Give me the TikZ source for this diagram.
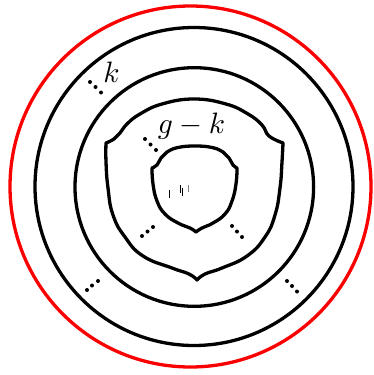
\documentclass[tikz,border=0pt]{standalone}
\begin{document}
\begin{tikzpicture}[x=1pt,y=-1pt,
  ring/.style={line width=3.3pt},
  redring/.style={line width=3.3pt, draw={rgb,255:red,250;green,0;blue,0}},
  shield/.style={line width=3.3pt, line join=round},
  dotmark/.style={fill=black, draw=none},
  tick/.style={line width=0.9pt},
  lab/.style={inner sep=0pt, anchor=base, scale=2.95}]
\useasboundingbox (0,0) rectangle (373,375);
% circles
\draw[redring] (190.5,186.5) circle[radius=180.5pt];
\draw[ring] (194,186.5) circle[radius=159pt];
\draw[ring] (194.3,187) circle[radius=119.3pt];
% outer shield
\draw[shield] plot[smooth, tension=0.75] coordinates {(106,143) (114,139) (120,133) (127,124) (140,114) (162,104) (194,99) (226,104) (248,114) (262,125) (269,136) (283,143)}
  -- plot[smooth, tension=0.8] coordinates {(283,143) (282,162) (280,188) (275,215) (265,237) (247,256) (222,268) (205,274) (197,280)}
  -- plot[smooth, tension=0.8] coordinates {(197,280) (189,274) (172,268) (143,256) (125,237) (113,215) (108,188) (106,162) (106,143)} -- cycle;
% inner shield
\draw[shield] plot[smooth, tension=0.75] coordinates {(152,168) (157,165) (161,158) (167,152) (178,147.5) (195,146) (212,147.5) (223,152) (229,158) (233,165) (237,168)}
  -- plot[smooth, tension=0.8] coordinates {(237,168) (236,184) (232,201) (225,214) (213,223) (202,228) (196,232)}
  -- plot[smooth, tension=0.8] coordinates {(196,232) (190,228) (178,223) (165,214) (157,201) (153,184) (152,168)} -- cycle;
% dots
\foreach \p in {(90,82),(95.5,87),(101,92.5),
                (145,139),(150.5,144.5),(156,150),
                (142,236),(147.5,231.5),(153,227),
                (232,226),(237,231.5),(242,237),
                (87,290),(92,285.5),(98,281),
                (287,281),(292,286),(297,291.5)}
  \fill[dotmark] \p circle[radius=2pt];
% small marks in the centre
\draw[tick] (169,190) -- (169,198);
\draw[tick] (180.5,185) -- (180.5,193);
\draw[tick] (182.5,188) -- (182.5,196);
\draw[tick, gray] (188,185) -- (188,192);
% labels
\node[lab] (k) at (111.5,82.5) {$k$};
\node[lab] (gk) at (191.5,133) {$g-k$};
\end{tikzpicture}
\end{document}
